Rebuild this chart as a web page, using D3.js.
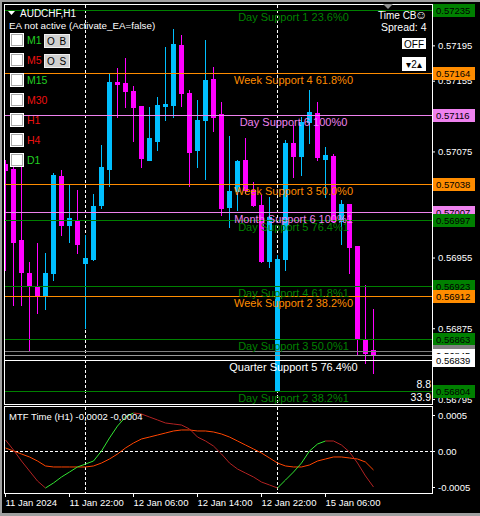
<!DOCTYPE html>
<html>
<head>
<meta charset="utf-8">
<script src="https://cdn.jsdelivr.net/npm/d3@7"></script>
<style>
  html, body { margin: 0; padding: 0; background: #000; }
  svg { display: block; }
  text { font-family: "Liberation Sans", Arial, sans-serif; }
</style>
</head>
<body>
<div id="canvas"></div>
<script>
"use strict";

// AUDCHF H1 candles, oldest first (11 Jan 14:00 .. 15 Jan 12:00)
let opens = [0.57061, 0.57055, 0.56975, 0.56938, 0.56922, 0.56913, 0.56938, 0.57047, 0.56992, 0.56997,
  0.56949, 0.56953, 0.57014, 0.57055, 0.57154, 0.57152, 0.57143, 0.57126, 0.57065, 0.57087,
  0.57126, 0.57128, 0.57195, 0.57141, 0.57077, 0.57110, 0.57157, 0.57117, 0.57012, 0.57030,
  0.57065, 0.57031, 0.57014, 0.56951, 0.56805, 0.56953, 0.57085, 0.57070, 0.57108, 0.57119,
  0.57067, 0.57070, 0.56996, 0.57016, 0.56968, 0.56863, 0.56850];
let highs = [0.57065, 0.57068, 0.57062, 0.56950, 0.56971, 0.56960, 0.57051, 0.57054, 0.57037, 0.57031,
  0.56980, 0.57027, 0.57082, 0.57163, 0.57169, 0.57181, 0.57149, 0.57126, 0.57125, 0.57137,
  0.57193, 0.57214, 0.57207, 0.57145, 0.57133, 0.57201, 0.57171, 0.57131, 0.57093, 0.57065,
  0.57090, 0.57040, 0.57026, 0.57024, 0.56958, 0.57088, 0.57105, 0.57114, 0.57145, 0.57131,
  0.57080, 0.57072, 0.57020, 0.57016, 0.56968, 0.56924, 0.56897];
let lows = [0.56941, 0.56901, 0.56901, 0.56850, 0.56892, 0.56897, 0.56930, 0.56980, 0.56973, 0.56960,
  0.56875, 0.56952, 0.57011, 0.57036, 0.57114, 0.57125, 0.57087, 0.57057, 0.57065, 0.57077,
  0.57110, 0.57114, 0.57126, 0.57036, 0.57057, 0.57044, 0.57098, 0.57003, 0.56990, 0.57009,
  0.57028, 0.57013, 0.56950, 0.56944, 0.56804, 0.56941, 0.57046, 0.57048, 0.57085, 0.57065,
  0.57024, 0.56995, 0.56970, 0.56938, 0.56845, 0.56836, 0.56824];
let closes = [0.57054, 0.56973, 0.56939, 0.56923, 0.56913, 0.56938, 0.57048, 0.56992, 0.57000, 0.56970,
  0.56954, 0.57013, 0.57057, 0.57154, 0.57151, 0.57143, 0.57125, 0.57068, 0.57090, 0.57128,
  0.57129, 0.57197, 0.57141, 0.57074, 0.57111, 0.57156, 0.57114, 0.57011, 0.57030, 0.57064,
  0.57031, 0.57014, 0.56951, 0.57001, 0.56953, 0.57085, 0.57070, 0.57108, 0.57120, 0.57069,
  0.57071, 0.56996, 0.57016, 0.56967, 0.56863, 0.56847, 0.56845];

// MTF Time indicator (sub window)
let mainLine = [0.000153, 0.000014, -0.000139, -0.000278, -0.000417, -0.000514, -0.000444, -0.000361, -0.000292, -0.000222,
  -0.000181, -0.000139, 0, 0.000181, 0.000347, 0.000472, 0.000528, 0.000514, 0.000472, 0.000431,
  0.000389, 0.000375, 0.000361, 0.000306, 0.000194, 0.000139, 0.000069, -0.000042, -0.000167, -0.000250,
  -0.000306, -0.000361, -0.000431, -0.000472, -0.000514, -0.000403, -0.000292, -0.000167, 0, 0.000097,
  0.000139, 0.000139, 0.000083, -0.000014, -0.000167, -0.000347, -0.000500];
let signalLine = [0.000042, 0, -0.000042, -0.000083, -0.000139, -0.000208, -0.000222, -0.000222, -0.000222, -0.000222,
  -0.000222, -0.000208, -0.000167, -0.000111, -0.000042, 0.000042, 0.000111, 0.000167, 0.000194, 0.000222,
  0.000250, 0.000278, 0.000292, 0.000292, 0.000278, 0.000278, 0.000264, 0.000236, 0.000194, 0.000139,
  0.000083, 0.000028, -0.000028, -0.000097, -0.000167, -0.000208, -0.000222, -0.000222, -0.000194, -0.000139,
  -0.000111, -0.000083, -0.000083, -0.000097, -0.000111, -0.000153, -0.000264];

// time axis
let timeLabels = ["11 Jan 2024", "11 Jan 22:00", "12 Jan 06:00", "12 Jan 14:00", "12 Jan 22:00", "15 Jan 06:00"];
let timeLabelBars = [0, 8, 16, 24, 32, 40];
let daySeparatorBars = [10, 34];

// price axis (ticks hidden under the price labels are left out)
let priceTicks = [0.57195, 0.57155, 0.57075, 0.57035, 0.56955, 0.56875, 0.56835, 0.56795];
let indicatorTicks = [0.0005, 0, -0.0005];

// support levels drawn on the chart
let levelPrices = [0.57235, 0.57164, 0.57116, 0.57038, 0.57007, 0.56997, 0.56923, 0.56912, 0.56863, 0.56839, 0.56804];
let levelNames = ["Day Support 1 23.6%0", "Week Support 4 61.8%0", "Day Support 6 100%0", "Week Support 3 50.0%0",
  "Month Support 6 100%1", "Day Support 5 76.4%1", "Day Support 4 61.8%1", "Week Support 2 38.2%0",
  "Day Support 3 50.0%1", "Quarter Support 5 76.4%0", "Day Support 2 38.2%1"];
let askBid = [0.56849, 0.56845];

// panel on the left
let timeframes = ["M1", "M5", "M15", "M30", "H1", "H4", "D1"];
let timeframeUp = [true, false, true, false, false, false, true];
let buttons = ["O B", "O S"];
let stats = ["8.8", "33.9"];

let width = 480;
let height = 516;
let bull = "#00bfff";
let bear = "#ff00ff";
let crisp = v => Math.round(v) + 0.5;
let fmt = d3.format(".5f");

let levelColor = name =>
  name.includes("100%") ? "#ee82ee" :
  name.startsWith("Day") ? "#008000" :
  name.startsWith("Week") ? "#ff8c00" : "#ffffff";

let svg = d3.select("#canvas")
  .append("svg")
  .attr("width", width)
  .attr("height", height);

svg.append("rect").attr("width", width).attr("height", height).attr("fill", "#000");

// window frame
svg.append("rect").attr("x", 0).attr("y", 0).attr("width", width).attr("height", 2).attr("fill", "#a0a0a0");
svg.append("rect").attr("x", 0).attr("y", 0).attr("width", 2).attr("height", height).attr("fill", "#a0a0a0");
svg.append("rect").attr("x", 0).attr("y", height - 3).attr("width", width).attr("height", 3).attr("fill", "#a0a0a0");

// scales
let xScale = d3.scaleLinear().domain([0, 46]).range([5.5, 373.5]);
let yScale = d3.scaleLinear().domain([0.56804, 0.57235]).range([391, 10]);
let yInd = d3.scaleLinear().domain([-0.0005, 0.0005]).range([487, 415]);

let defs = svg.append("defs");
defs.append("clipPath").attr("id", "mainClip")
  .append("rect").attr("x", 5).attr("y", 5).attr("width", 427).attr("height", 399);
defs.append("clipPath").attr("id", "indClip")
  .append("rect").attr("x", 5).attr("y", 407).attr("width", 427).attr("height", 86);

let main = svg.append("g").attr("clip-path", "url(#mainClip)");
let ind = svg.append("g").attr("clip-path", "url(#indClip)");

// day separators, behind everything else
daySeparatorBars.forEach(b => {
  [[main, 5, 404], [ind, 407, 493]].forEach(([g, y1, y2]) => {
    g.append("line")
      .attr("x1", crisp(xScale(b) - 0.5)).attr("x2", crisp(xScale(b) - 0.5))
      .attr("y1", y1).attr("y2", y2)
      .attr("stroke", "#fff").attr("stroke-dasharray", "3,2");
  });
});

// candles
let candles = d3.range(opens.length).map(i => ({ i, o: opens[i], h: highs[i], l: lows[i], c: closes[i] }));

main.selectAll("line.wick")
  .data(candles)
  .enter()
  .append("line")
  .attr("class", "wick")
  .attr("x1", d => crisp(xScale(d.i) - 0.5))
  .attr("x2", d => crisp(xScale(d.i) - 0.5))
  .attr("y1", d => Math.round(yScale(d.h)))
  .attr("y2", d => Math.round(yScale(d.l)) + 1)
  .attr("stroke", d => d.c >= d.o ? bull : bear);

main.selectAll("rect.body")
  .data(candles)
  .enter()
  .append("rect")
  .attr("class", "body")
  .attr("x", d => Math.round(xScale(d.i) - 2.5))
  .attr("y", d => Math.round(yScale(Math.max(d.o, d.c))))
  .attr("width", 5)
  .attr("height", d => Math.max(2, Math.round(yScale(Math.min(d.o, d.c))) - Math.round(yScale(Math.max(d.o, d.c))) + 1))
  .attr("fill", d => d.c >= d.o ? bull : bear);

// ask / bid lines
askBid.forEach((p, k) => {
  main.append("line")
    .attr("x1", 5).attr("x2", 432)
    .attr("y1", crisp(yScale(p))).attr("y2", crisp(yScale(p)))
    .attr("stroke", k === 0 ? "#808080" : "#9a9a9a");
});

// support levels
levelPrices.forEach((p, k) => {
  let y = crisp(yScale(p));
  main.append("line")
    .attr("x1", 5).attr("x2", 432)
    .attr("y1", y).attr("y2", y)
    .attr("stroke", levelColor(levelNames[k]));
});
levelPrices.forEach((p, k) => {
  main.append("text")
    .attr("x", xScale(36))
    .attr("y", crisp(yScale(p)) + 10.5)
    .attr("text-anchor", "middle")
    .attr("font-size", "11px")
    .attr("fill", levelColor(levelNames[k]))
    .text(levelNames[k]);
});

// panel borders
svg.append("rect").attr("x", 4.5).attr("y", 4.5).attr("width", 428).attr("height", 400)
  .attr("fill", "none").attr("stroke", "#fff");
svg.append("rect").attr("x", 4.5).attr("y", 406.5).attr("width", 428).attr("height", 87)
  .attr("fill", "none").attr("stroke", "#fff");

// price axis
let yAxis = svg.append("g")
  .attr("transform", "translate(432, 0)")
  .call(d3.axisRight(yScale).tickValues(priceTicks).tickSize(3).tickPadding(3).tickFormat(fmt));
yAxis.select(".domain").remove();
yAxis.selectAll("line").attr("stroke", "#fff");
yAxis.selectAll("text").attr("fill", "#fff").attr("font-size", "9.5px")
  .attr("font-family", "Liberation Sans, Arial, sans-serif");

// price labels on the axis
let priceLabel = (p, bg) => {
  let y = crisp(yScale(p));
  svg.append("rect").attr("x", 433).attr("y", y - 6.5).attr("width", 42).attr("height", 13).attr("fill", bg);
  svg.append("text").attr("x", 436).attr("y", y + 3.5)
    .attr("font-size", "9.5px").attr("fill", "#000").text(fmt(p));
};
levelPrices.forEach((p, k) => {
  if (k !== 9) priceLabel(p, levelColor(levelNames[k]));
});
priceLabel(askBid[0], "#808080");
priceLabel(askBid[1], "#ffffff");
priceLabel(levelPrices[9], "#ffffff");

// stats at the bottom right of the chart
stats.forEach((s, k) => {
  svg.append("text").attr("x", 431).attr("y", 387.5 + 13 * k)
    .attr("text-anchor", "end").attr("font-size", "10.5px").attr("fill", "#fff").text(s);
});

// indicator window
ind.append("line")
  .attr("x1", 5).attr("x2", 432)
  .attr("y1", crisp(yInd(0))).attr("y2", crisp(yInd(0)))
  .attr("stroke", "#fff").attr("stroke-dasharray", "3,2");

let lineGen = d3.line().x(d => xScale(d[0])).y(d => yInd(d[1]));

ind.append("path")
  .datum(signalLine.map((v, i) => [i, v]))
  .attr("d", lineGen)
  .attr("fill", "none")
  .attr("stroke", "#ff4500")
  .attr("stroke-width", 1);

ind.selectAll("path.seg")
  .data(d3.pairs(mainLine.map((v, i) => [i, v])))
  .enter()
  .append("path")
  .attr("class", "seg")
  .attr("d", d => lineGen(d))
  .attr("fill", "none")
  .attr("stroke", d => d[1][1] > d[0][1] ? "#32e632" : "#b22222")
  .attr("stroke-width", 1);

svg.append("text").attr("x", 9).attr("y", 419.5)
  .attr("font-size", "9.5px").attr("fill", "#fff")
  .text("MTF Time (H1) -0,0002 -0,0004");

let indAxis = svg.append("g")
  .attr("transform", "translate(432, 0)")
  .call(d3.axisRight(yInd).tickValues(indicatorTicks).tickSize(3).tickPadding(3)
    .tickFormat(d => d === 0 ? "0.00" : (d < 0 ? "-" : "") + Math.abs(d).toFixed(4)));
indAxis.select(".domain").remove();
indAxis.selectAll("line").attr("stroke", "#fff");
indAxis.selectAll("text").attr("fill", "#fff").attr("font-size", "9.5px")
  .attr("font-family", "Liberation Sans, Arial, sans-serif");

// time axis
let xAxis = svg.append("g")
  .attr("transform", "translate(-0.5, 493)")
  .call(d3.axisBottom(xScale).tickValues(timeLabelBars).tickSize(4).tickPadding(2)
    .tickFormat((d, i) => timeLabels[i]));
xAxis.select(".domain").remove();
xAxis.selectAll("line").attr("stroke", "#fff");
xAxis.selectAll("text").attr("fill", "#fff").attr("font-size", "9.5px")
  .attr("text-anchor", "start")
  .attr("font-family", "Liberation Sans, Arial, sans-serif");

// header
svg.append("path").attr("d", "M8,11 L15,11 L11.5,15 Z").attr("fill", "#fff");
svg.append("text").attr("x", 20).attr("y", 17).attr("font-size", "10px").attr("fill", "#fff").text("AUDCHF,H1");
svg.append("text").attr("x", 9).attr("y", 29).attr("font-size", "9.8px").attr("fill", "#fff")
  .text("EA not active (Activate_EA=false)");

// timeframe checkboxes
timeframes.forEach((tf, k) => {
  let y0 = 33 + 20 * k;
  svg.append("rect").attr("x", 10).attr("y", y0).attr("width", 14).attr("height", 14).attr("fill", "#fff");
  svg.append("rect").attr("x", 11.5).attr("y", y0 + 1.5).attr("width", 11).attr("height", 11)
    .attr("fill", "#fff").attr("stroke", "#a8a8a8");
  svg.append("text").attr("x", 27).attr("y", y0 + 11).attr("font-size", "10.5px")
    .attr("fill", timeframeUp[k] ? "#22d022" : "#ee1111").text(tf);
});
buttons.forEach((b, k) => {
  let y0 = 34 + 20 * k;
  svg.append("rect").attr("x", 44.5).attr("y", y0 + 0.5).attr("width", 25).attr("height", 13)
    .attr("fill", "#d0d0d0").attr("stroke", "#f0f0f0");
  svg.append("text").attr("x", 57).attr("y", y0 + 10.5).attr("text-anchor", "middle")
    .attr("font-size", "10px").attr("fill", "#000").style("letter-spacing", "1px").text(b);
});

// top right controls
svg.append("path").attr("d", "M383,4 L393,4 L388,9 Z").attr("fill", "#909090");
svg.append("text").attr("x", 378).attr("y", 19).attr("font-size", "10px").attr("fill", "#fff").text("Time CB");
svg.append("text").attr("x", 415).attr("y", 19).attr("font-size", "12px").attr("fill", "#fff")
  .attr("font-family", "DejaVu Sans").text("\u263A");
svg.append("text").attr("x", 381).attr("y", 31).attr("font-size", "10.5px").attr("fill", "#fff").text("Spread: 4");
svg.append("rect").attr("x", 402).attr("y", 38).attr("width", 24).attr("height", 11).attr("fill", "#fff");
svg.append("text").attr("x", 414).attr("y", 47.5).attr("text-anchor", "middle")
  .attr("font-size", "10px").attr("fill", "#000").text("OFF");
svg.append("rect").attr("x", 402).attr("y", 57).attr("width", 24).attr("height", 14).attr("fill", "#fff");
svg.append("text").attr("x", 414).attr("y", 68).attr("text-anchor", "middle")
  .attr("font-size", "10px").attr("fill", "#000").attr("font-family", "DejaVu Sans").text("\u25BE2\u25B4");
</script>
</body>
</html>
